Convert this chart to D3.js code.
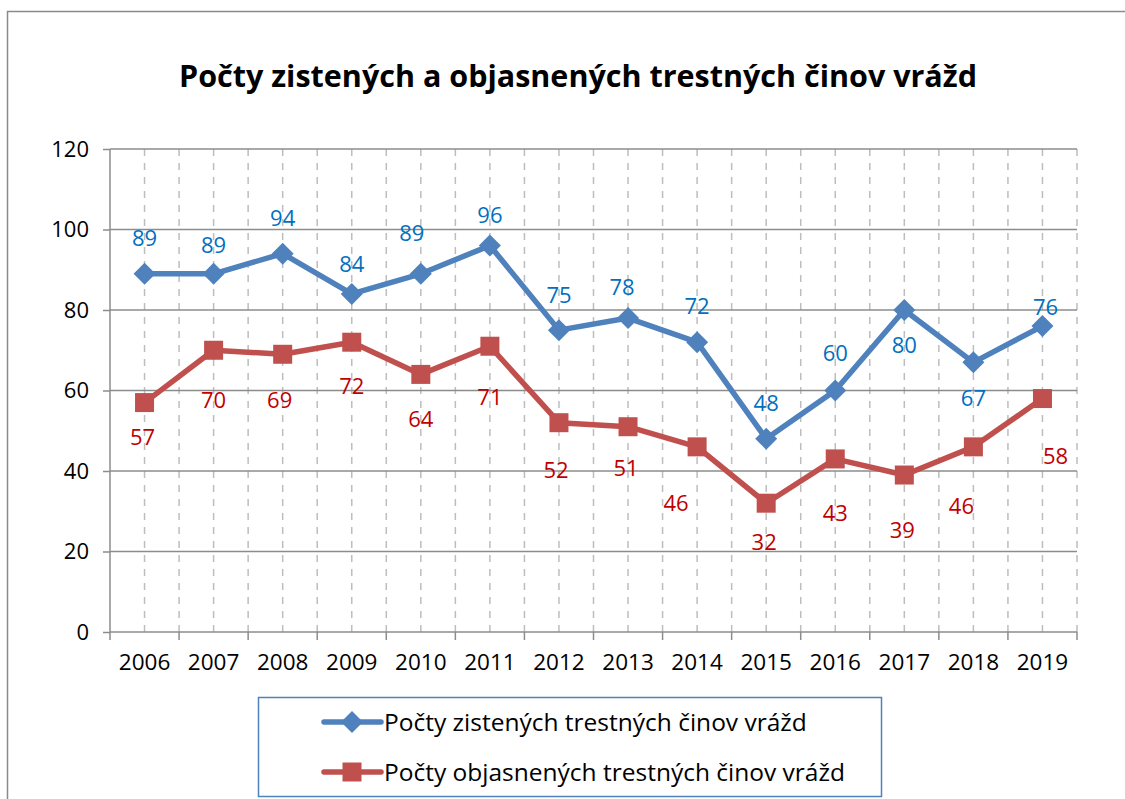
<!DOCTYPE html>
<html>
<head>
<meta charset="utf-8">
<script src="https://cdn.jsdelivr.net/npm/d3@7"></script>
<style>
  body { margin: 0; background: #fff; }
  text { font-family: "Open Sans", "Noto Sans", sans-serif; }
</style>
</head>
<body>
<div class="chart"></div>
<script>
// data
var years = ["2006", "2007", "2008", "2009", "2010", "2011", "2012", "2013", "2014", "2015", "2016", "2017", "2018", "2019"];
var zistene = [89, 89, 94, 84, 89, 96, 75, 78, 72, 48, 60, 80, 67, 76];
var objasnene = [57, 70, 69, 72, 64, 71, 52, 51, 46, 32, 43, 39, 46, 58];
var yTicks = [0, 20, 40, 60, 80, 100, 120];
var seriesNames = ["Počty zistených trestných činov vrážd", "Počty objasnených trestných činov vrážd"];

// label offsets from their point (px), as they were dragged in the original
var zisteneLabelDy = [-36, -29, -36, -30, -41, -31, -35, -31, -36, -36, -37, 35, 36, -19];
var zisteneLabelDx = [0, 0, 0, 0, -9, 0, 0, -6, 0, 0, 0, 0, 0, 3];
var objasneneLabelDy = [35, 50, 46, 44, 45, 51, 47, 41, 56, 39, 54, 55, 59, 58];
var objasneneLabelDx = [-2, 0, -3, 0, 0, 0, -3, -2, -21, -2, 0, -2, -12, 13];

var svgWidth = 1125;
var svgHeight = 799;
var margin = { top: 149, right: 48, bottom: 167, left: 110 };
var width = svgWidth - margin.left - margin.right;
var height = svgHeight - margin.top - margin.bottom;

var svg = d3.select(".chart")
    .append("svg")
    .attr("width", svgWidth)
    .attr("height", svgHeight);

// outer frame
svg.append("rect")
    .attr("x", 7.5).attr("y", 11.5)
    .attr("width", 1130).attr("height", 800)
    .attr("fill", "none")
    .attr("stroke", "#8a8a8a")
    .attr("stroke-width", 1.5);

svg.append("text")
    .attr("x", 578).attr("y", 87)
    .attr("text-anchor", "middle")
    .style("font-size", "30.5px")
    .style("font-weight", "bold")
    .attr("fill", "#000")
    .text("Počty zistených a objasnených trestných činov vrážd");

var chart = svg.append("g")
    .attr("transform", "translate(" + margin.left + "," + margin.top + ")");

var x = d3.scaleBand().domain(years).range([0, width]);
var y = d3.scaleLinear().domain([0, 120]).range([height, 0]);

// vertical dashed grid: centers and band edges
var vlines = [];
years.forEach(function(d) {
    vlines.push(x(d) + x.bandwidth() / 2);
    vlines.push(x(d) + x.bandwidth());
});
chart.selectAll(".vgrid")
    .data(vlines)
    .enter()
    .append("line")
    .attr("class", "vgrid")
    .attr("x1", function(d) { return d; })
    .attr("x2", function(d) { return d; })
    .attr("y1", 0)
    .attr("y2", height)
    .attr("stroke", "#bdbdbd")
    .attr("stroke-width", 1.5)
    .attr("stroke-dasharray", "7,7");

// horizontal grid
chart.selectAll(".hgrid")
    .data(yTicks.slice(1))
    .enter()
    .append("line")
    .attr("class", "hgrid")
    .attr("x1", 0).attr("x2", width)
    .attr("y1", function(d) { return y(d); })
    .attr("y2", function(d) { return y(d); })
    .attr("stroke", "#8c8c8c")
    .attr("stroke-width", 1.5);

// y axis
var leftAxis = d3.axisLeft(y).tickValues(yTicks).tickSize(7).tickPadding(14);
var gy = chart.append("g").call(leftAxis);
gy.select(".domain").attr("stroke", "#8c8c8c").attr("stroke-width", 1.5).attr("d", "M0," + height + "V0");
gy.selectAll(".tick line").attr("stroke", "#8c8c8c").attr("stroke-width", 1.5);
gy.selectAll(".tick text")
    .style("font-size", "22px")
    .style("font-family", "'Open Sans', sans-serif")
    .attr("fill", "#000");

// x axis
var bottomAxis = d3.axisBottom(x).tickSize(0).tickPadding(22);
var gx = chart.append("g")
    .attr("transform", "translate(0," + height + ")")
    .call(bottomAxis);
gx.select(".domain").attr("stroke", "#8c8c8c").attr("stroke-width", 1.5).attr("d", "M0,0H" + width);
gx.selectAll(".tick text")
    .style("font-size", "22.5px")
    .style("font-family", "'Open Sans', sans-serif")
    .attr("fill", "#000");
var edges = [0].concat(years.map(function(d) { return x(d) + x.bandwidth(); }));
gx.selectAll(".edge")
    .data(edges)
    .enter()
    .append("line")
    .attr("class", "edge")
    .attr("x1", function(d) { return d; })
    .attr("x2", function(d) { return d; })
    .attr("y1", 0).attr("y2", 8)
    .attr("stroke", "#8c8c8c")
    .attr("stroke-width", 1.5);

var cx = function(d, i) { return x(years[i]) + x.bandwidth() / 2; };

var line = d3.line()
    .x(function(d, i) { return cx(d, i); })
    .y(function(d) { return y(d); });

// red series
chart.append("path")
    .datum(objasnene)
    .attr("d", line)
    .attr("fill", "none")
    .attr("stroke", "#C0504D")
    .attr("stroke-width", 5.5)
    .attr("stroke-linejoin", "round");
chart.selectAll(".sq")
    .data(objasnene)
    .enter()
    .append("rect")
    .attr("class", "sq")
    .attr("x", function(d, i) { return cx(d, i) - 9.5; })
    .attr("y", function(d) { return y(d) - 9.5; })
    .attr("width", 19).attr("height", 19)
    .attr("fill", "#C0504D");

// blue series
chart.append("path")
    .datum(zistene)
    .attr("d", line)
    .attr("fill", "none")
    .attr("stroke", "#4F81BD")
    .attr("stroke-width", 5.5)
    .attr("stroke-linejoin", "round");
chart.selectAll(".dm")
    .data(zistene)
    .enter()
    .append("path")
    .attr("class", "dm")
    .attr("transform", function(d, i) { return "translate(" + cx(d, i) + "," + y(d) + ")"; })
    .attr("d", "M0,-11L11,0L0,11L-11,0Z")
    .attr("fill", "#4F81BD");

// data labels (y is the label's centre)
chart.selectAll(".lblB")
    .data(zistene)
    .enter()
    .append("text")
    .attr("class", "lblB")
    .attr("x", function(d, i) { return cx(d, i) + zisteneLabelDx[i]; })
    .attr("y", function(d, i) { return y(d) + zisteneLabelDy[i]; })
    .attr("dy", "0.36em")
    .attr("text-anchor", "middle")
    .style("font-size", "22px")
    .attr("fill", "#0070C0")
    .text(function(d) { return d; });

chart.selectAll(".lblR")
    .data(objasnene)
    .enter()
    .append("text")
    .attr("class", "lblR")
    .attr("x", function(d, i) { return cx(d, i) + objasneneLabelDx[i]; })
    .attr("y", function(d, i) { return y(d) + objasneneLabelDy[i]; })
    .attr("dy", "0.36em")
    .attr("text-anchor", "middle")
    .style("font-size", "22px")
    .attr("fill", "#C00000")
    .text(function(d) { return d; });

// legend
var legend = svg.append("g");
legend.append("rect")
    .attr("x", 258.5).attr("y", 697.5)
    .attr("width", 623).attr("height", 99)
    .attr("fill", "#fff")
    .attr("stroke", "#4F81BD")
    .attr("stroke-width", 1.5);
var colors = ["#4F81BD", "#C0504D"];
seriesNames.forEach(function(name, i) {
    var ly = 722 + i * 50;
    legend.append("line")
        .attr("x1", 324).attr("x2", 381)
        .attr("y1", ly).attr("y2", ly)
        .attr("stroke", colors[i])
        .attr("stroke-width", 5.5)
        .attr("stroke-linecap", "round");
    if (i === 0) {
        legend.append("path")
            .attr("transform", "translate(352," + ly + ")")
            .attr("d", "M0,-11L11,0L0,11L-11,0Z")
            .attr("fill", colors[i]);
    } else {
        legend.append("rect")
            .attr("x", 342.5).attr("y", ly - 9.5)
            .attr("width", 19).attr("height", 19)
            .attr("fill", colors[i]);
    }
    legend.append("text")
        .attr("x", 384).attr("y", ly)
        .attr("dy", "0.36em")
        .style("font-size", "24.5px")
        .attr("fill", "#000")
        .text(name);
});
</script>
</body>
</html>
